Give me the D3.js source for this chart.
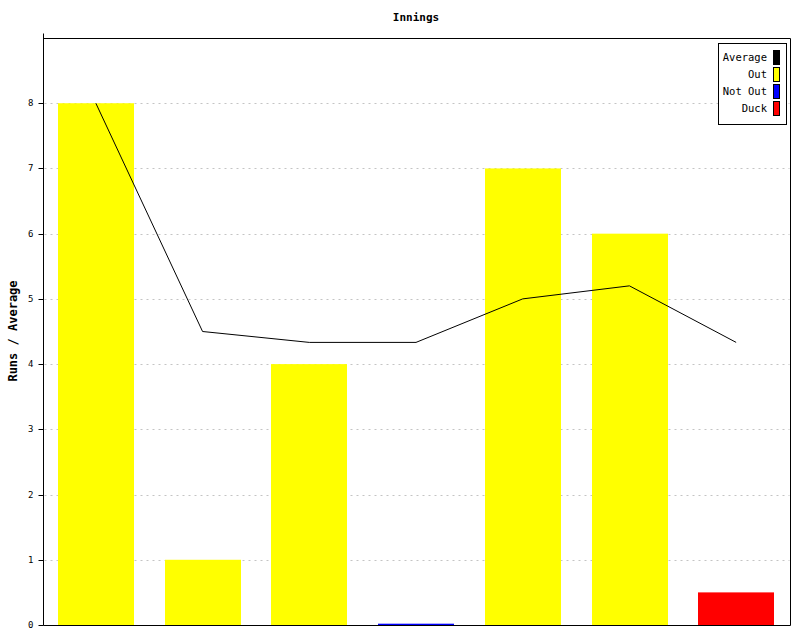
<!DOCTYPE html>
<html><head><meta charset="utf-8">
<script src="https://cdn.jsdelivr.net/npm/d3@7"></script>
<style>body{margin:0;background:#fff}svg{display:block}text{font-family:"DejaVu Sans Mono",monospace}</style>
</head><body><svg id="c" width="800" height="640"></svg>
<script>
const innings = ["1","2","3","4","5","6","7"];
const runs = [8, 1, 4, 0.02, 7, 6, 0.5];
const kinds = ["Out","Out","Out","Not Out","Out","Out","Duck"];
const averages = [8, 4.5, 4.333, 4.333, 5, 5.2, 4.333];
const yTicks = [0,1,2,3,4,5,6,7,8];
const legendLabels = ["Average","Out","Not Out","Duck"];
const legendColors = ["#000000","#ffff00","#0000ff","#ff0000"];
const kindColor = {"Out":"#ffff00","Not Out":"#0000ff","Duck":"#ff0000"};

const svg = d3.select("#c");
const L=43.5, R=790.5, T=38.5, B=625.5;
const x = d3.scaleBand().domain(innings).range([L-1,R-1]).paddingInner(0.29).paddingOuter(0.145);
const y = d3.scaleLinear().domain([0,9]).range([625,38]);

// grid
svg.append("g").selectAll("line").data(yTicks.filter(d=>d>0)).join("line")
  .attr("x1",L+1).attr("x2",R-1).attr("y1",d=>Math.round(y(d))+0.5).attr("y2",d=>Math.round(y(d))+0.5)
  .attr("stroke","#c4c4c4").attr("stroke-dasharray","2,4");

// bars
svg.append("g").selectAll("rect").data(innings).join("rect")
  .attr("x",d=>Math.round(x(d))).attr("width",Math.round(x.bandwidth()))
  .attr("y",(d,i)=>y(runs[i])).attr("height",(d,i)=>y(0)-y(runs[i]))
  .attr("fill",(d,i)=>kindColor[kinds[i]]);

// average line
const line = d3.line().x((d,i)=>x(innings[i])+x.bandwidth()/2).y(d=>y(d));
svg.append("path").datum(averages).attr("d",line).attr("fill","none").attr("stroke","#000").attr("stroke-width",1);

// frame
svg.append("path").attr("d",`M${L},${T-5}V${B}H${R}V${T}H${L}`).attr("fill","none").attr("stroke","#000").attr("stroke-width",1);

// y axis
const yAxis = d3.axisLeft(y).tickValues(yTicks).tickSize(5).tickPadding(5).tickFormat(d3.format("d"));
const ga = svg.append("g").attr("transform",`translate(${L},0)`).call(yAxis);
ga.select(".domain").remove();
ga.selectAll("text").attr("font-size",9).attr("font-family","DejaVu Sans Mono").attr("fill","#000");
ga.selectAll(".tick").attr("transform",d=>`translate(0,${Math.round(y(d))+0.5})`);

// title
svg.append("text").attr("x",416).attr("y",21).attr("text-anchor","middle").attr("font-size",11).attr("font-weight","bold").text("Innings");
svg.append("text").attr("transform","translate(17,331) rotate(-90)").attr("text-anchor","middle").attr("font-size",12).attr("font-weight","bold").text("Runs / Average");

// legend
const lg = svg.append("g");
lg.append("rect").attr("x",718.5).attr("y",43.5).attr("width",68).attr("height",81).attr("fill","#fff").attr("stroke","#000");
const row = lg.selectAll("g").data(legendLabels).join("g").attr("transform",(d,i)=>`translate(0,${50+i*17})`);
row.append("rect").attr("x",773.5).attr("y",0.5).attr("width",6).attr("height",14).attr("fill",(d,i)=>legendColors[i]).attr("stroke","#000");
row.append("text").attr("x",767).attr("y",11).attr("text-anchor","end").attr("font-size",10.5).text(d=>d);
</script></body></html>
